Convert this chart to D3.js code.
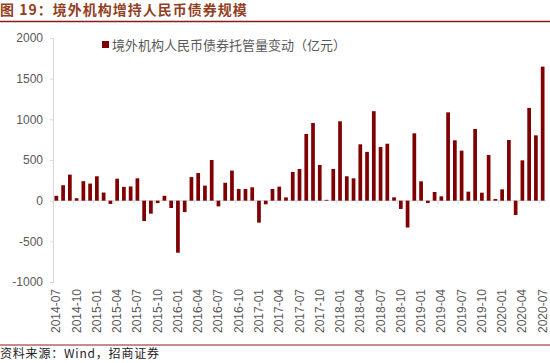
<!DOCTYPE html>
<html lang="zh">
<head>
<meta charset="UTF-8">
<title>境外机构增持人民币债券规模</title>
<style>
    body { margin: 0; background: #fff; }
    svg { display: block; font-family: "Liberation Sans", Arial, sans-serif; }
</style>
</head>
<body>
<svg id="chart" width="550" height="363"></svg>
<script src="https://d3js.org/d3.v7.min.js"></script>
<script>
    // monthly change, 2014-07 .. 2020-07 (亿元)
    const startYear = 2014, startMonth = 7;
    const values = [
        60, 190, 320, 30, 240, 210, 300, 100, -40, 270, 170, 175,
        275, -250, -160, -30, 60, -90, -640, -140, 290, 340, 185, 500,
        -70, 220, 370, 144, 144, 164, -270, -45, 144, 172, 40, 353,
        390, 820, 955, 439, 10, 390, 976, 300, 275, 693, 600, 1100,
        660, 700, 41, -102, -330, 828, 238, -29, 107, 53, 1086, 742,
        615, 111, 881, 98, 561, 20, 139, 746, -176, 496, 1140, 803,
        1648
    ];
    const months = values.map((v, i) => {
        const m = startMonth - 1 + i;
        return `${startYear + Math.floor(m / 12)}-${String(m % 12 + 1).padStart(2, "0")}`;
    });
    const yTicks = [-1000, -500, 0, 500, 1000, 1500, 2000];
    const seriesName = "境外机构人民币债券托管量变动（亿元）";

    const svg = d3.select("#chart");
    const margin = { left: 53, right: 4, top: 38, bottom: 81 };
    const W = 550, H = 363;

    const x = d3.scaleBand()
        .domain(months)
        .range([margin.left, W - margin.right])
        .paddingInner(0.45)
        .paddingOuter(0.22);
    const y = d3.scaleLinear()
        .domain([-1000, 2000])
        .range([H - margin.bottom, margin.top]);

    // title
    svg.append("text")
        .attr("x", 0).attr("y", 15)
        .attr("font-family", "'Noto Sans CJK SC', sans-serif")
        .attr("font-weight", "bold")
        .attr("font-size", 14)
        .attr("letter-spacing", 1)
        .attr("fill", "#93401f")
        .text("图 19：境外机构增持人民币债券规模");
    svg.append("line")
        .attr("x1", 0).attr("x2", W).attr("y1", 21.5).attr("y2", 21.5)
        .attr("stroke", "#8b1a1a").attr("stroke-width", 1.5);

    // y axis
    const yAxis = svg.append("g")
        .attr("transform", `translate(${margin.left},0)`)
        .call(d3.axisLeft(y).tickValues(yTicks).tickFormat(d => String(d)).tickSize(3).tickPadding(7));
    yAxis.select(".domain").attr("stroke", "#d9d9d9");
    yAxis.selectAll(".tick line").attr("stroke", "#d9d9d9");
    yAxis.selectAll(".tick text")
        .attr("font-size", 12).attr("fill", "#595959")
        .attr("font-family", "'Liberation Sans', Arial, sans-serif");

    // zero line with ticks every 3 months
    svg.append("line")
        .attr("x1", margin.left).attr("x2", W - margin.right)
        .attr("y1", y(0)).attr("y2", y(0))
        .attr("stroke", "#d9d9d9");
    const step = x.step();
    svg.append("g").selectAll("line")
        .data(months.filter((d, i) => i % 3 === 0))
        .join("line")
        .attr("x1", d => x(d) + x.bandwidth() / 2 - step / 2)
        .attr("x2", d => x(d) + x.bandwidth() / 2 - step / 2)
        .attr("y1", y(0)).attr("y2", y(0) + 3)
        .attr("stroke", "#d9d9d9");

    // bars
    svg.append("g").selectAll("rect")
        .data(values)
        .join("rect")
        .attr("x", (d, i) => x(months[i]))
        .attr("width", x.bandwidth())
        .attr("y", d => y(Math.max(0, d)))
        .attr("height", d => Math.abs(y(d) - y(0)))
        .attr("fill", "#7f0000");

    // x labels (rotated), every 3 months, at bottom of plot
    svg.append("g").selectAll("text")
        .data(months.filter((d, i) => i % 3 === 0))
        .join("text")
        .attr("transform", d => `translate(${x(d) + x.bandwidth() / 2 + 4},${y(-1000) + 7}) rotate(-90)`)
        .attr("text-anchor", "end")
        .attr("font-size", 12)
        .attr("fill", "#595959")
        .text(d => d);

    // legend
    svg.append("rect")
        .attr("x", 102).attr("y", 41).attr("width", 7).attr("height", 7)
        .attr("fill", "#7f0000");
    svg.append("text")
        .attr("x", 112).attr("y", 49.5)
        .attr("font-family", "'Noto Sans CJK SC', sans-serif")
        .attr("font-size", 13)
        .attr("fill", "#595959")
        .text(seriesName);

    // footer
    svg.append("line")
        .attr("x1", 0).attr("x2", W).attr("y1", 345).attr("y2", 345)
        .attr("stroke", "#8b1a1a").attr("stroke-width", 1);
    svg.append("text")
        .attr("x", 0).attr("y", 358)
        .attr("font-family", "'Noto Sans CJK SC', sans-serif")
        .attr("font-size", 12)
        .attr("letter-spacing", 0.8)
        .attr("fill", "#222")
        .text("资料来源：Wind，招商证券");
</script>
</body>
</html>
